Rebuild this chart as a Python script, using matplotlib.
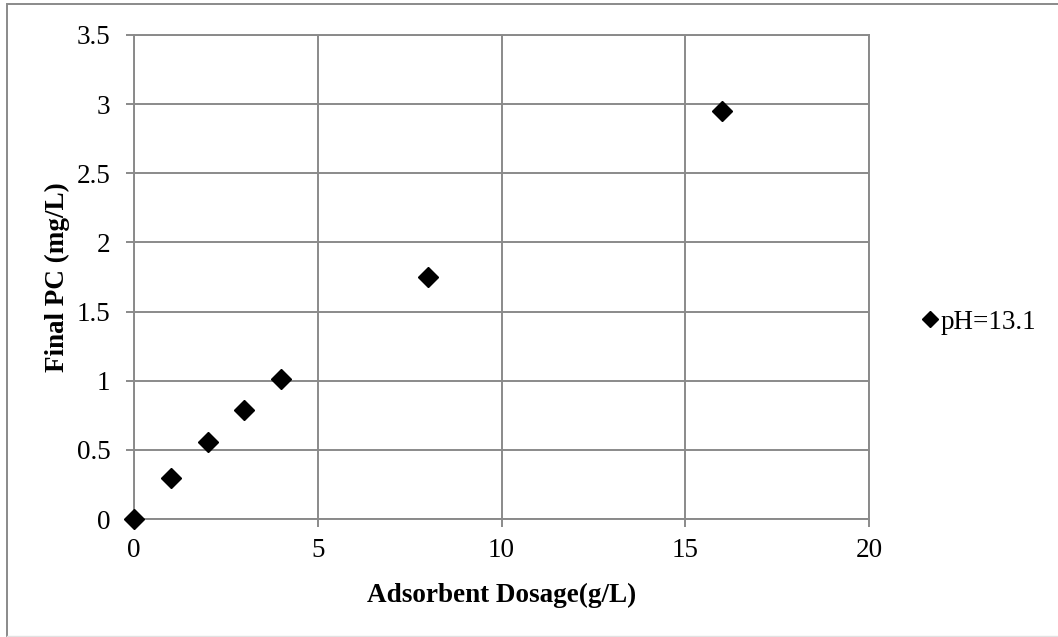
import matplotlib.pyplot as plt
import matplotlib.patches as patches
from matplotlib.lines import Line2D

dosage = [0, 1, 2, 3, 4, 8, 16]
final_pc = [0, 0.30, 0.56, 0.79, 1.01, 1.75, 2.95]
series_label = "pH=13.1"

plt.rcParams['font.family'] = ['Liberation Serif', 'DejaVu Serif']

fig = plt.figure(figsize=(10.58, 6.37), dpi=100)
ax = fig.add_axes([0.1267, 0.1852, 0.6947, 0.7599])

ax.plot(dosage, final_pc, linestyle='none', marker='D', markersize=10.5,
        color='black', label=series_label, clip_on=False, zorder=5)

ax.set_xlim(0, 20)
ax.set_ylim(0, 3.5)
ax.set_xticks([0, 5, 10, 15, 20])
ax.set_yticks([0, 0.5, 1, 1.5, 2, 2.5, 3, 3.5])
ax.set_yticklabels(['0', '0.5', '1', '1.5', '2', '2.5', '3', '3.5'])
ax.grid(True, color='#8a8a8a', linewidth=1.4)
ax.set_axisbelow(True)
for s in ax.spines.values():
    s.set_color('#8a8a8a')
    s.set_linewidth(1.4)
ax.tick_params(axis='both', colors='#8a8a8a', labelcolor='black', labelsize=19.5,
               length=6, width=1.4, direction='out')
ax.tick_params(axis='y', pad=11)
ax.tick_params(axis='x', pad=8)

ax.set_xlabel('Adsorbent Dosage(g/L)', fontsize=19.5, fontweight='bold', labelpad=14)
ax.set_ylabel('Final PC (mg/L)', fontsize=19.5, fontweight='bold', labelpad=5)

ax.legend(loc='center left', bbox_to_anchor=(1.058, 0.407), frameon=False,
          fontsize=19.5, handlelength=0.55, handletextpad=0.1, markerscale=0.8,
          borderaxespad=0)

# outer chart border (right edge falls outside the image)
fig.patches.append(patches.Rectangle((0.0066, -0.01), 1.1, 1.003, transform=fig.transFigure,
                                     fill=False, edgecolor='#8a8a8a', linewidth=1.4))
fig.lines.append(Line2D([0.0066, 1.0], [0.0012, 0.0012], transform=fig.transFigure,
                        color='#e2e2e2', linewidth=1.0))

fig.savefig('out.png', dpi=100)
